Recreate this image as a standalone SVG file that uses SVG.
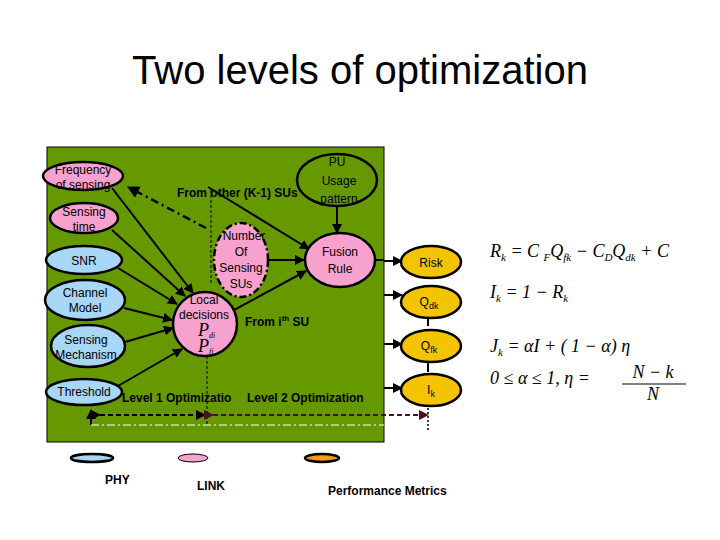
<svg xmlns="http://www.w3.org/2000/svg" width="720" height="540" viewBox="0 0 720 540">
<defs>
<marker id="ah" viewBox="0 0 10 10" refX="9" refY="5" markerWidth="5" markerHeight="5" orient="auto"><path d="M0,0 L10,5 L0,10 z" fill="#000"/></marker>
<marker id="ahm" viewBox="0 0 10 10" refX="9" refY="5" markerWidth="5" markerHeight="5" orient="auto"><path d="M0,0 L10,5 L0,10 z" fill="#4a1020"/></marker>
<style>
.t{font-family:"Liberation Sans",Arial,sans-serif;font-size:12px;fill:#000;text-anchor:middle}
.b{font-family:"Liberation Sans",Arial,sans-serif;font-weight:bold;font-size:12px;fill:#000}
.m{font-family:"Liberation Serif","Times New Roman",serif;font-style:italic;font-size:18px;fill:#000}
.pk{fill:#f7a1cf;stroke:#000;stroke-width:2.5}
.bl{fill:#a8d6f5;stroke:#000;stroke-width:2.5}
.yl{fill:#f5c400;stroke:#000;stroke-width:2.5}
.c{stroke:#000;stroke-width:2;fill:none;marker-end:url(#ah)}
</style>
</defs>
<rect width="720" height="540" fill="#fff"/>
<text x="360" y="84" font-family="Liberation Sans,Arial,sans-serif" font-size="40" text-anchor="middle">Two levels of optimization</text>
<rect x="47" y="147" width="337" height="295" fill="#669900" stroke="#000" stroke-width="1"/>
<g id="connectors">
<path class="c" d="M112,188 L193,293"/>
<path class="c" d="M112,230 L185,296"/>
<path class="c" d="M118,268 L177,304"/>
<path class="c" d="M124,308 L172,320"/>
<path class="c" d="M125,342 L173,328"/>
<path class="c" d="M118,386 L182,349"/>
<path class="c" d="M234,310 L306,271"/>
<path class="c" d="M268,260 L304,260"/>
<path class="c" d="M208,187 L309,249"/>
<path class="c" d="M337,206 L337,233"/>
<path d="M206,228 L128,187" stroke="#000" stroke-width="2.5" stroke-dasharray="8,4,2,4" fill="none" marker-end="url(#ah)"/>
<line x1="211" y1="190" x2="211" y2="283" stroke="#000" stroke-width="1" stroke-dasharray="3,2"/>
<line x1="207" y1="356" x2="207" y2="425" stroke="#000" stroke-width="1" stroke-dasharray="3,2"/>
<path d="M375,260 L384,260" stroke="#000" stroke-width="2"/>
<path class="c" d="M384,261 L402,261"/>
<path class="c" d="M384,295 L402,295"/>
<path class="c" d="M384,344 L402,344"/>
<path class="c" d="M384,388 L402,388"/>
<line x1="428" y1="318" x2="428" y2="326" stroke="#000" stroke-width="2"/>
<line x1="428" y1="362" x2="428" y2="372" stroke="#000" stroke-width="2"/>
<line x1="91" y1="425" x2="91" y2="410" stroke="#000" stroke-width="2" marker-end="url(#ah)"/>
<line x1="100" y1="415" x2="205" y2="415" stroke="#000" stroke-width="2" stroke-dasharray="5,3" marker-start="url(#ah)" marker-end="url(#ah)"/>
<line x1="213" y1="415" x2="428" y2="415" stroke="#4a1020" stroke-width="2" stroke-dasharray="5,3" marker-start="url(#ahm)" marker-end="url(#ahm)"/>
<line x1="428" y1="408" x2="428" y2="430" stroke="#000" stroke-width="1.5" stroke-dasharray="2,2"/>
<line x1="91" y1="425" x2="384" y2="425" stroke="#fff" stroke-width="1" stroke-dasharray="8,3,2,3"/>
</g>
<g id="freq"><ellipse class="pk" cx="83" cy="176" rx="40" ry="14"/><text class="t" x="83" y="174">Frequency</text><text class="t" x="83" y="189">of sensing</text></g>
<g id="stime"><ellipse class="pk" cx="84" cy="218" rx="34" ry="15"/><text class="t" x="84" y="216">Sensing</text><text class="t" x="84" y="231">time</text></g>
<g id="snr"><ellipse class="bl" cx="84" cy="260" rx="38" ry="14"/><text class="t" x="84" y="265">SNR</text></g>
<g id="channel"><ellipse class="bl" cx="85" cy="300" rx="40" ry="20"/><text class="t" x="85" y="297">Channel</text><text class="t" x="85" y="312">Model</text></g>
<g id="mech"><ellipse class="bl" cx="88" cy="346" rx="37" ry="21"/><text class="t" x="86" y="344">Sensing</text><text class="t" x="86" y="359">Mechanism</text></g>
<g id="threshold"><ellipse class="bl" cx="84" cy="392" rx="38" ry="13"/><text class="t" x="84" y="396">Threshold</text></g>
<g id="local"><circle class="pk" cx="205" cy="324" r="32"/><text class="t" x="204" y="304">Local</text><text class="t" x="204" y="319">decisions</text><text class="m" x="198" y="336" font-size="12">P<tspan font-size="8" dy="2">di</tspan></text><text class="m" x="198" y="352" font-size="12">P<tspan font-size="8" dy="2">fi</tspan></text></g>
<g id="number"><ellipse class="pk" cx="241" cy="260" rx="27" ry="37" stroke-dasharray="7,3,2,3"/><text class="t" x="244" y="240">Number</text><text class="t" x="241" y="256">Of</text><text class="t" x="241" y="272">Sensing</text><text class="t" x="241" y="288">SUs</text></g>
<g id="fusion"><ellipse class="pk" cx="340" cy="260" rx="35" ry="27"/><text class="t" x="340" y="256">Fusion</text><text class="t" x="340" y="273">Rule</text></g>
<g id="pu"><ellipse cx="337" cy="180" rx="40" ry="26" fill="#669900" stroke="#000" stroke-width="2.5"/><text class="t" x="337" y="166">PU</text><text class="t" x="339" y="185">Usage</text><text class="t" x="339" y="203">pattern</text></g>
<text class="b" x="177" y="197">From other (K-1) SUs</text>
<text class="b" x="245" y="326">From i<tspan font-size="8" dy="-5">th</tspan><tspan dy="5"> SU</tspan></text>
<text class="b" x="122" y="402">Level 1 Optimizatio</text>
<text class="b" x="247" y="402">Level 2 Optimization</text>
<g id="risk"><ellipse class="yl" cx="431" cy="262" rx="30" ry="16"/><text class="t" x="431" y="267">Risk</text></g>
<g id="qdk"><ellipse class="yl" cx="431" cy="302" rx="30" ry="16"/><text class="t" x="429" y="306">Q<tspan font-size="9" dy="3">dk</tspan></text></g>
<g id="qfk"><ellipse class="yl" cx="431" cy="346" rx="30" ry="16"/><text class="t" x="429" y="350">Q<tspan font-size="9" dy="3">fk</tspan></text></g>
<g id="ik"><ellipse class="yl" cx="431" cy="390" rx="30" ry="16"/><text class="t" x="431" y="394">I<tspan font-size="9" dy="3">k</tspan></text></g>
<text class="m" x="490" y="257">R<tspan font-size="11" dy="4">k</tspan><tspan dy="-4"> = C </tspan><tspan font-size="11" dy="4">F</tspan><tspan dy="-4">Q</tspan><tspan font-size="11" dy="4">fk</tspan><tspan dy="-4"> − C</tspan><tspan font-size="11" dy="4">D</tspan><tspan dy="-4">Q</tspan><tspan font-size="11" dy="4">dk</tspan><tspan dy="-4"> + C</tspan></text>
<text class="m" x="490" y="298">I<tspan font-size="11" dy="4">k</tspan><tspan dy="-4"> = 1 − R</tspan><tspan font-size="11" dy="4">k</tspan></text>
<text class="m" x="490" y="352">J<tspan font-size="11" dy="4">k</tspan><tspan dy="-4">  =   αI + (  1 −  α)  η</tspan></text>
<text class="m" x="490" y="384">0 ≤   α ≤   1, η =</text>
<text class="m" x="653" y="378" text-anchor="middle">N − k</text>
<line x1="622" y1="384" x2="686" y2="384" stroke="#000" stroke-width="1"/>
<text class="m" x="653" y="400" text-anchor="middle">N</text>
<g id="legend">
<ellipse cx="92" cy="458" rx="21" ry="4" fill="#a8d6f5" stroke="#000" stroke-width="2.5"/>
<ellipse cx="193" cy="458" rx="15" ry="4" fill="#f7a1cf" stroke="#000" stroke-width="1"/>
<ellipse cx="322" cy="458" rx="17" ry="4" fill="#f59a1e" stroke="#000" stroke-width="2.5"/>
<text class="b" x="105" y="484">PHY</text>
<text class="b" x="197" y="490">LINK</text>
<text class="b" x="328" y="495">Performance Metrics</text>
</g>
</svg>
